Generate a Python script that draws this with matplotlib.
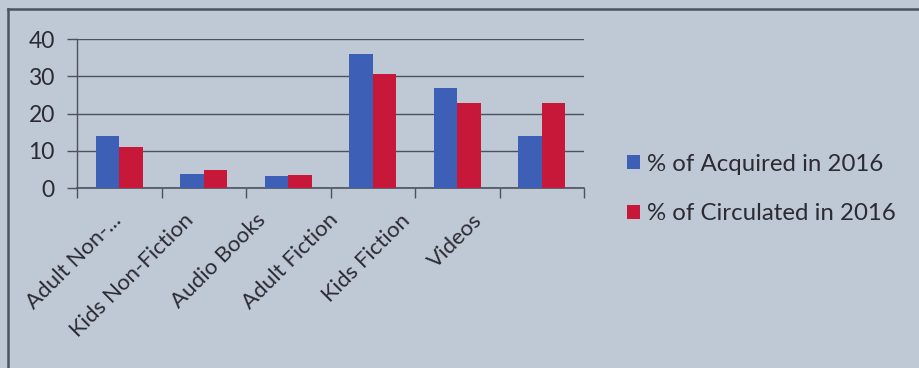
import matplotlib
matplotlib.use("Agg")
import matplotlib.pyplot as plt
from matplotlib.lines import Line2D
from matplotlib.patches import Patch
import matplotlib.transforms as mtransforms
import numpy as np

categories = ["Adult Non-...", "Kids Non-Fiction", "Audio Books",
              "Adult Fiction", "Kids Fiction", "Videos"]
acquired = [14.0, 3.8, 3.3, 35.9, 26.9, 14.0]
circulated = [11.0, 4.8, 3.5, 30.7, 22.8, 22.8]
series_names = ["% of Acquired in 2016", "% of Circulated in 2016"]
y_ticks = [0, 10, 20, 30, 40]

bg = "#bfc8d5"
blue = "#3d5fb5"
red = "#c8183a"
ink = "#2b2b33"
line_col = "#4d5260"

plt.rcParams["font.family"] = ["Lato", "DejaVu Sans"]

fig = plt.figure(figsize=(9.19, 3.68), dpi=100)
fig.patch.set_facecolor(bg)
ax = fig.add_axes([77 / 919, 1 - 188 / 368, (584 - 77) / 919, (188 - 39) / 368])
ax.set_facecolor(bg)

x = np.arange(len(categories))
w = 0.28
ax.bar(x - w / 2, acquired, w, color=blue, zorder=3)
ax.bar(x + w / 2, circulated, w, color=red, zorder=3)

ax.set_xlim(-0.5, len(categories) - 0.5)
ax.set_ylim(0, 40)
ax.set_yticks(y_ticks)
ax.set_yticklabels([str(v) for v in y_ticks], fontsize=16.5, color=ink)
ax.yaxis.grid(True, color=line_col, linewidth=1.0, zorder=0)
ax.tick_params(axis="y", length=7, width=1.0, color=line_col, pad=9)

# category boundaries carry the tick marks
ax.set_xticks(np.arange(-0.5, len(categories)))
ax.set_xticklabels([])
ax.tick_params(axis="x", length=7, width=1.0, color=line_col)

# rotated category labels, packed slightly tighter than the categories
label_offset = mtransforms.ScaledTranslation(0, -22 / 100, fig.dpi_scale_trans)
for i, name in enumerate(categories):
    ax.text(i * 0.855 - 0.1, 0, name, rotation=45, rotation_mode="anchor",
            ha="right", va="top", fontsize=16, color=ink,
            transform=ax.transData + label_offset, clip_on=False)

for side in ["top", "right"]:
    ax.spines[side].set_visible(False)
ax.spines["left"].set_color(line_col)
ax.spines["bottom"].set_color(line_col)
ax.spines["left"].set_linewidth(1.0)
ax.spines["bottom"].set_linewidth(1.2)

handles = [Patch(facecolor=blue), Patch(facecolor=red)]
leg = fig.legend(handles, series_names, loc="center left",
                 bbox_to_anchor=(627 / 919, 1 - 189 / 368),
                 frameon=False, fontsize=17.3, labelcolor=ink,
                 handlelength=0.55, handleheight=0.55, handletextpad=0.3,
                 labelspacing=1.2, borderpad=0, borderaxespad=0)

# chart frame: top and left edges
fig.add_artist(Line2D([8 / 919, 1.0], [1 - 9 / 368, 1 - 9 / 368],
                      transform=fig.transFigure, color=line_col, linewidth=1.8))
fig.add_artist(Line2D([8 / 919, 8 / 919], [1 - 9 / 368, 0.0],
                      transform=fig.transFigure, color=line_col, linewidth=1.8))

fig.savefig("out.png", dpi=100, facecolor=bg)
